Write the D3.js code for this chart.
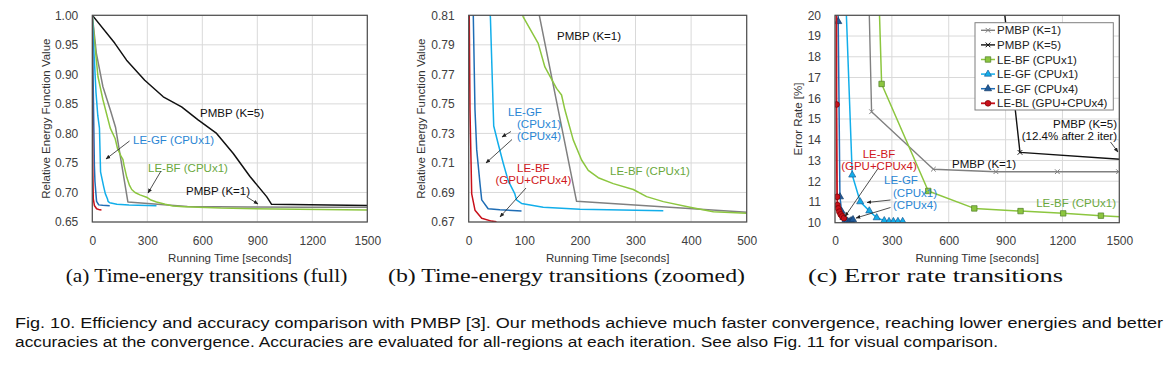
<!DOCTYPE html>
<html>
<head>
<meta charset="utf-8">
<script src="https://cdn.jsdelivr.net/npm/d3@7"></script>
<style>
  html, body { margin: 0; padding: 0; background: #fff; }
  svg { display: block; }
</style>
</head>
<body>
<svg id="chart" width="1172" height="366"></svg>
<script>
// ---------------- DATA ----------------
// Panel (a)/(b): time [s] vs relative energy
const pmbpK5Energy = [[0,1.0],[122,0.953],[187,0.924],[286,0.890],[387,0.862],[487,0.845],[577,0.823],[678,0.800],[769,0.766],[860,0.727],[951,0.693],[978,0.680],[1500,0.678]];
const pmbpK1Energy = [[0,1.0],[22,0.936],[58,0.879],[100,0.838],[127,0.81],[194,0.684],[519,0.6761],[849,0.6755],[1173,0.675],[1500,0.6748]];
const leBfCpu1Energy = [[0,1.0],[13,0.953],[31,0.896],[58,0.857],[98,0.809],[125,0.791],[137,0.775],[158,0.7605],[167,0.756],[173,0.746],[188,0.7256],[203,0.712],[215,0.705],[233,0.700],[260,0.696],[296,0.692],[320,0.6872],[350,0.6838],[398,0.680],[440,0.677],[500,0.6759],[700,0.6735],[1000,0.672],[1500,0.6703]];
const leGfCpu1Energy = [[0,1.0],[5,0.96],[12,0.92],[20,0.87],[30,0.83],[39,0.809],[45,0.735],[53,0.723],[62,0.710],[71,0.698],[83,0.689],[86,0.685],[95,0.6826],[134,0.680],[200,0.6786],[350,0.6777]];
const leGfCpu4Energy = [[0,1.0],[3,0.93],[6,0.86],[8.3,0.809],[11.3,0.746],[14.4,0.719],[20.3,0.696],[23.4,0.685],[35,0.679],[56,0.6783],[95,0.6774]];
const leBfGpuEnergy = [[0,1.0],[0.5,0.85],[1,0.81],[2.3,0.746],[5.4,0.689],[11.3,0.678],[23.4,0.6725],[41,0.6706],[50,0.6702]];

// Panel (c): time [s] vs error rate [%]
const pmbpK1Error = [[0,90],[193,15.35],[519,12.58],[849,12.46],[1173,12.46],[1496,12.46]];
const pmbpK5Error = [[0,94],[976,13.39],[2550,12.4]];
const leBfCpu1Error = [[0,90],[246,16.69],[492,11.53],[735,10.69],[979,10.56],[1204,10.45],[1403,10.34],[1650,10.22]];
const leGfCpu1Error = [[0,90],[40,25],[91,12.3],[133,11.01],[181,10.57],[220,10.24],[260,10.1],[285,10.06],[308,10.06],[332,10.06],[357,10.06]];
const leGfCpu4Error = [[0,90],[17,19.7],[26,11.25],[35,10.55],[45,10.25],[55,10.12],[65,10.08],[75,10.05],[85,10.1],[95,10.15]];
const leBlGpuError = [[0,90],[8,15.7],[11,11.25],[13,10.85],[17,10.69],[23,10.53],[30,10.4],[38,10.3],[47,10.22]];

// Tick values / labels
const xTicksA = [0,300,600,900,1200,1500];
const yTicksA = [0.65,0.70,0.75,0.80,0.85,0.90,0.95,1.00];
const xTicksB = [0,100,200,300,400,500];
const yTicksB = [0.67,0.69,0.71,0.73,0.75,0.77,0.79,0.81];
const xTicksC = [0,300,600,900,1200,1500];
const yTicksC = [10,11,12,13,14,15,16,17,18,19,20];

const legendLabels = ["PMBP (K=1)","PMBP (K=5)","LE-BF (CPUx1)","LE-GF (CPUx1)","LE-GF (CPUx4)","LE-BL (GPU+CPUx4)"];
const subCaptions = ["(a) Time-energy transitions (full)","(b) Time-energy transitions (zoomed)","(c) Error rate transitions"];
const captionLines = [
  "Fig. 10. Efficiency and accuracy comparison with PMBP [3]. Our methods achieve much faster convergence, reaching lower energies and better",
  "accuracies at the convergence. Accuracies are evaluated for all-regions at each iteration. See also Fig. 11 for visual comparison."
];

// ---------------- STYLE ----------------
const SANS = "'Liberation Sans', Arial, sans-serif";
const SERIF = "'Liberation Serif', 'Times New Roman', serif";
const C = {
  k5: "#111111", k1: "#808080", bf: "#8cc63f", gf1: "#12aeea", gf4: "#1f6db5", red: "#c8101a",
  txtBlue: "#2a86d4", txtRed: "#d01820", txtGreen: "#6aa83c"
};

const svg = d3.select("#chart").style("font-family", SANS);
svg.append("rect").attr("width",1172).attr("height",366).attr("fill","#fff");

const defs = svg.append("defs");
defs.append("marker").attr("id","arrow").attr("viewBox","0 0 10 10")
  .attr("refX",9).attr("refY",5).attr("markerWidth",6).attr("markerHeight",6)
  .attr("orient","auto-start-reverse")
  .append("path").attr("d","M0,1 L10,5 L0,9 z").attr("fill","#222");

function makePanel(id, cfg) {
  const x = d3.scaleLinear().domain(cfg.xDomain).range([cfg.l, cfg.r]);
  const y = d3.scaleLinear().domain(cfg.yDomain).range([cfg.b, cfg.t]);
  const g = svg.append("g");
  defs.append("clipPath").attr("id","clip"+id).append("rect")
    .attr("x",cfg.l).attr("y",cfg.t).attr("width",cfg.r-cfg.l).attr("height",cfg.b-cfg.t);
  // grid
  g.append("g").selectAll("line").data(cfg.xTicks).join("line")
    .attr("x1",d=>x(d)).attr("x2",d=>x(d)).attr("y1",cfg.t).attr("y2",cfg.b)
    .attr("stroke","#d9d9d9").attr("stroke-width",1);
  g.append("g").selectAll("line").data(cfg.yTicks).join("line")
    .attr("x1",cfg.l).attr("x2",cfg.r).attr("y1",d=>y(d)).attr("y2",d=>y(d))
    .attr("stroke","#d9d9d9").attr("stroke-width",1);
  // axes
  const ax = g.append("g").attr("transform",`translate(0,${cfg.b})`)
    .call(d3.axisBottom(x).tickValues(cfg.xTicks).tickSize(0).tickPadding(14).tickFormat(d3.format("d")));
  const ay = g.append("g").attr("transform",`translate(${cfg.l},0)`)
    .call(d3.axisLeft(y).tickValues(cfg.yTicks).tickSize(0).tickPadding(14).tickFormat(cfg.yFmt));
  [ax, ay].forEach(a => {
    a.select(".domain").remove();
    a.attr("font-family", SANS).attr("font-size", 12);
    a.selectAll("text").attr("fill","#404040");
  });
  // axis titles
  g.append("text").attr("x",(cfg.l+cfg.r)/2).attr("y",262).attr("text-anchor","middle")
    .attr("font-size","11.5px").attr("fill","#333").text("Running Time [seconds]");
  g.append("text").attr("transform",`translate(${cfg.ytx},${(cfg.t+cfg.b)/2}) rotate(-90)`)
    .attr("text-anchor","middle").attr("font-size","11.5px").attr("fill","#333").text(cfg.yTitle);
  const plot = g.append("g").attr("clip-path",`url(#clip${id})`);
  const line = d3.line().x(d=>x(d[0])).y(d=>y(d[1]));
  return {x, y, g, plot, line, cfg};
}

function frame(p) {
  const c = p.cfg;
  p.g.append("rect").attr("x",c.l).attr("y",c.t).attr("width",c.r-c.l).attr("height",c.b-c.t)
    .attr("fill","none").attr("stroke","#4d4d4d").attr("stroke-width",1.2);
}

function series(p, data, color, w) {
  p.plot.append("path").datum(data).attr("d",p.line).attr("fill","none")
    .attr("stroke",color).attr("stroke-width",w||1.5).attr("stroke-linejoin","round");
}

function label(lines, x, y, color, anchor, dy) {
  lines.forEach((t,i) => {
    svg.append("text").attr("x",Array.isArray(x)?x[i]:x).attr("y",y+i*(dy||12))
      .attr("text-anchor",anchor||"start").attr("font-size","11.5px").attr("fill",color).text(t);
  });
}
function arrow(x1,y1,x2,y2) {
  svg.append("line").attr("x1",x1).attr("y1",y1).attr("x2",x2).attr("y2",y2)
    .attr("stroke","#222").attr("stroke-width",0.8).attr("marker-end","url(#arrow)");
}

// ---------------- PANEL A ----------------
const pa = makePanel("A", {l:92.3, r:367.3, t:15.3, b:222, xDomain:[0,1500], yDomain:[0.65,1.0],
  xTicks:xTicksA, yTicks:yTicksA, yFmt:d3.format(".2f"), ytx:50, yTitle:"Relative Energy Function Value"});
series(pa, pmbpK5Energy, C.k5);
series(pa, pmbpK1Energy, C.k1);
series(pa, leBfCpu1Energy, C.bf);
series(pa, leGfCpu1Energy, C.gf1);
series(pa, leGfCpu4Energy, C.gf4);
series(pa, leBfGpuEnergy, C.red);
frame(pa);
label(["PMBP (K=5)"], 200, 117, "#111");
label(["LE-GF (CPUx1)"], 133, 144, C.txtBlue);
arrow(129.5,141,106,159);
label(["LE-BF (CPUx1)"], 148, 172, C.txtGreen);
arrow(161,171,148,193);
label(["PMBP (K=1)"], 186, 195, "#111");
arrow(247,197,258,204);

// ---------------- PANEL B ----------------
const pb = makePanel("B", {l:468.7, r:746.7, t:15.3, b:222, xDomain:[0,500], yDomain:[0.67,0.81],
  xTicks:xTicksB, yTicks:yTicksB, yFmt:d3.format(".2f"), ytx:425, yTitle:"Relative Energy Function Value"});
series(pb, pmbpK5Energy, C.k5);
series(pb, pmbpK1Energy, C.k1);
series(pb, leBfCpu1Energy, C.bf);
series(pb, leGfCpu1Energy, C.gf1);
series(pb, leGfCpu4Energy, C.gf4);
series(pb, leBfGpuEnergy, C.red);
frame(pb);
label(["PMBP (K=1)"], 557, 40, "#111");
label(["LE-GF","(CPUx1)","(CPUx4)"], [508,517,517], 116, C.txtBlue, "start", 12);
arrow(511,131.5,502,137);
arrow(512,139.5,486,163);
label(["LE-BF","(GPU+CPUx4)"], [517,495.5], 172, C.txtRed, "start", 12);
arrow(526,188,500,217);
label(["LE-BF (CPUx1)"], 610, 175, C.txtGreen);

// ---------------- PANEL C ----------------
const pc = makePanel("C", {l:835, r:1119.3, t:15.3, b:222.7, xDomain:[0,1500], yDomain:[10,20],
  xTicks:xTicksC, yTicks:yTicksC, yFmt:d3.format("d"), ytx:802, yTitle:"Error Rate [%]"});

const symSquare = d3.symbol().type(d3.symbolSquare).size(30);
const symTri = d3.symbol().type(d3.symbolTriangle).size(22);
const symCircle = d3.symbol().type(d3.symbolCircle).size(26);
const symCross = d3.symbol().type(d3.symbolX).size(16);

const errSeries = [
  {data:pmbpK1Error, color:C.k1, sym:symCross, fill:"none", stroke:C.k1, w:1.4},
  {data:pmbpK5Error, color:C.k5, sym:symCross, fill:"none", stroke:C.k5, w:1.4},
  {data:leBfCpu1Error, color:C.bf, sym:symSquare, fill:C.bf, stroke:"#4f7d28", w:1.5},
  {data:leGfCpu1Error, color:C.gf1, sym:symTri, fill:C.gf1, stroke:"#1c5c96", w:1.5},
  {data:leGfCpu4Error, color:C.gf4, sym:symTri, fill:"#1f5a9a", stroke:"#133b66", w:1.5},
  {data:leBlGpuError, color:C.red, sym:symCircle, fill:C.red, stroke:"#7a0000", w:1.8}
];
errSeries.forEach(s => {
  series(pc, s.data, s.color, s.w);
  pc.plot.append("g").selectAll("path").data(s.data).join("path")
    .attr("transform",d=>`translate(${pc.x(d[0])},${pc.y(d[1])})`)
    .attr("d",s.sym).attr("fill",s.fill).attr("stroke",s.stroke)
    .attr("stroke-width", s.fill==="none"?1:0.7);
});
frame(pc);

// legend
const lg = svg.append("g");
lg.append("rect").attr("x",975).attr("y",22.7).attr("width",138.3).attr("height",87.3)
  .attr("fill","#fff").attr("stroke","#7f7f7f").attr("stroke-width",1);
legendLabels.forEach((t,i) => {
  const s = errSeries[i];
  const cy = 30.3 + i*14.6;
  lg.append("line").attr("x1",981).attr("x2",995).attr("y1",cy).attr("y2",cy)
    .attr("stroke",s.color).attr("stroke-width",s.w);
  lg.append("path").attr("transform",`translate(988,${cy})`).attr("d",s.sym)
    .attr("fill",s.fill).attr("stroke",s.stroke).attr("stroke-width", s.fill==="none"?1:0.7);
  lg.append("text").attr("x",997).attr("y",cy+4).attr("font-size","11.5px").attr("fill","#222").text(t);
});

label(["PMBP (K=5)","(12.4% after 2 iter)"], 1117, 128, "#111", "end", 12);
arrow(1110.5,142,1118,152);
label(["PMBP (K=1)"], 952, 167.5, "#111");
label(["LE-BF","(GPU+CPUx4)"], 879, 158, C.txtRed, "middle", 11.5);
arrow(878,168.5,845,216.5);
label(["LE-GF","(CPUx1)","(CPUx4)"], [884,893,893], 184, C.txtBlue, "start", 12.5);
arrow(890.5,200,867,202.5);
arrow(890.5,207.5,856,218);
label(["LE-BF (CPUx1)"], 1116, 206.5, C.txtGreen, "end");

// ---------------- CAPTIONS ----------------
const subPos = [[65.7,281.6],[388,357],[808,255]];
subCaptions.forEach((t,i) => {
  svg.append("text").attr("x",subPos[i][0]).attr("y",282)
    .style("font-family", SERIF).attr("font-size","18px")
    .attr("fill","#111").attr("textLength",subPos[i][1]).attr("lengthAdjust","spacingAndGlyphs").text(t);
});
const capW = [1148, 983];
captionLines.forEach((t,i) => {
  svg.append("text").attr("x",15).attr("y",328+i*18.5)
    .style("font-family", SANS).attr("font-size","14px").attr("fill","#111")
    .attr("textLength",capW[i]).attr("lengthAdjust","spacingAndGlyphs").text(t);
});
</script>
</body>
</html>
